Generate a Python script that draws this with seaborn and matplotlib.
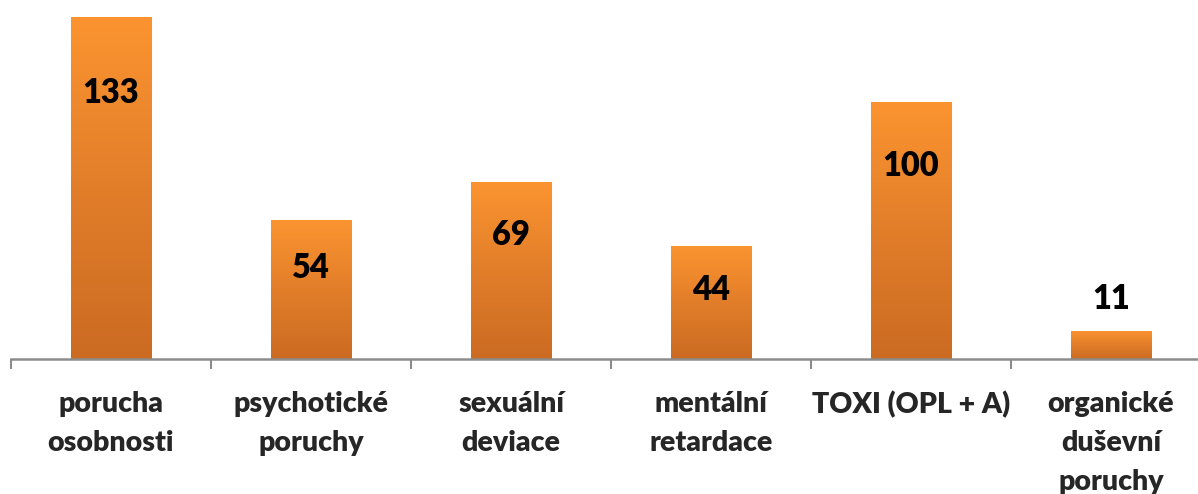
import numpy as np
import pandas as pd
import matplotlib
matplotlib.use("Agg")
import matplotlib.pyplot as plt
from matplotlib.colors import LinearSegmentedColormap
import seaborn as sns

categories = ["porucha\nosobnosti", "psychotické\nporuchy", "sexuální\ndeviace",
              "mentální\nretardace", "TOXI (OPL + A)", "organické\nduševní\nporuchy"]
values = [133, 54, 69, 44, 100, 11]

df = pd.DataFrame({"cat": categories, "val": values})

sns.set_theme(style="white")
plt.rcParams["font.family"] = ["Lato", "DejaVu Sans"]
plt.rcParams["font.weight"] = "heavy"

fig = plt.figure(figsize=(11.98, 4.94), dpi=100)
ax = fig.add_axes([11 / 1198, 1 - 359 / 494, 1 - 11 / 1198, 359 / 494])

sns.barplot(data=df, x="cat", y="val", ax=ax, width=0.405, color="#E8822A",
            saturation=1, edgecolor="none")

# vertical orange gradient clipped to each bar
grad_cmap = LinearSegmentedColormap.from_list("og", ["#CB6B22", "#E27E2A", "#FB9430"])
grad = np.linspace(0, 1, 256).reshape(-1, 1)
for p in ax.patches:
    x0, y0 = p.get_x(), p.get_y()
    w, h = p.get_width(), p.get_height()
    im = ax.imshow(grad, cmap=grad_cmap, origin="lower", aspect="auto",
                   extent=[x0, x0 + w, y0, y0 + h], zorder=p.get_zorder() + 0.1)
    im.set_clip_path(p)

# data labels
for i, v in enumerate(values):
    if v > 30:
        ax.text(i, v - (11 + 0.14 * v), str(v), ha="center", va="center",
                fontsize=23.5, fontweight="heavy", color="black", zorder=5)
    else:
        ax.text(i, v + 12.5, str(v), ha="center", va="center",
                fontsize=23.5, fontweight="heavy", color="black", zorder=5)

for s in ["top", "right", "left"]:
    ax.spines[s].set_visible(False)
ax.spines["bottom"].set_color("#8C8C8C")
ax.spines["bottom"].set_linewidth(1.8)

ax.set_yticks([])
ax.set_xticks(np.arange(-0.5, 6, 1.0), minor=False)
ax.set_xticklabels([])
ax.set_xticks(np.arange(len(categories)), minor=True)
ax.set_xticklabels(categories, minor=True, fontsize=20.5, fontweight="heavy",
                   linespacing=1.62)
ax.tick_params(axis="x", which="major", length=7.5, width=1.5, color="#8C8C8C",
               bottom=True, direction="out")
ax.tick_params(axis="x", which="minor", length=0, pad=23)
ax.set_xlabel("")
ax.set_ylabel("")

ax.set_xlim(-0.5, 5.435)
ax.set_ylim(0, 139.6)

fig.savefig("out.png", dpi=100)
